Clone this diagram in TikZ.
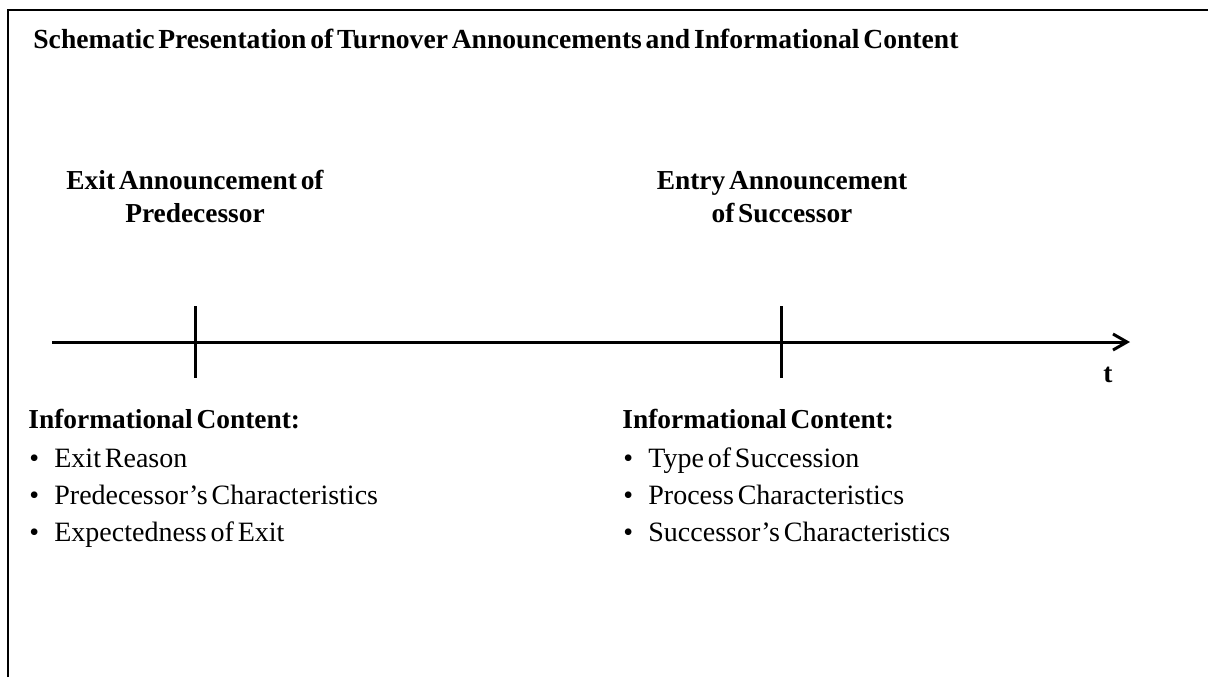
\documentclass[tikz,border=0pt]{standalone}
\usepackage{fontspec}
\setmainfont[WordSpace=0.55]{Liberation Serif}
\usetikzlibrary{positioning}
\usetikzlibrary{arrows.meta}

\tikzset{
 heading/.style={anchor=base,inner sep=0pt,font=\bfseries\fontsize{13.7}{16}\selectfont},
 listhead/.style={anchor=base west,inner sep=0pt,font=\bfseries\fontsize{13.7}{16}\selectfont},
 listitem/.style={anchor=base west,inner sep=0pt,font=\fontsize{14}{16}\selectfont},
 axisline/.style={line width=1.5pt}
}
\newcommand{\itembullet}{\makebox[13pt][l]{\hspace{0.5pt}\textbullet}}

\begin{document}
\begin{tikzpicture}[x=0.5pt,y=-0.5pt]
 \useasboundingbox (0,0) rectangle (1208,677);
 % frame
 \draw[line width=1pt](8,677)--(8,10)--(1208,10);
 \node[anchor=base west,inner sep=0pt,font=\bfseries\fontsize{13.8}{16}\selectfont] (title) at (33,48)
  {Schematic Presentation of Turnover Announcements and Informational Content};

 % time axis
 \coordinate (axstart) at (52,342);
 \coordinate (axend) at (1130,342);
 \draw[axisline,-{Straight Barb[length=7pt,width=8pt]}] (axstart)--(axend);
 \node[heading] (tlabel) at (1108,382) {t};

 \coordinate (exittop) at (195,306);
 \coordinate (exitbot) at (195,378);
 \coordinate (entrytop) at (781,306);
 \coordinate (entrybot) at (781,378);
 \draw[axisline](exittop)--(exitbot);
 \draw[axisline](entrytop)--(entrybot);

 % announcements
 \node[heading] (exitA) at (195,189) {Exit Announcement of};
 \node[heading] (exitB) at (195,222) {Predecessor};
 \node[heading] (entryA) at (782,189) {Entry Announcement};
 \node[heading] (entryB) at (782,222) {of Successor};

 % informational content
 \node[listhead] (exitinfo) at (28,428) {Informational Content:};
 \node[listitem] (exit1) at (28,467) {\itembullet Exit Reason};
 \node[listitem] (exit2) at (28,504) {\itembullet Predecessor’s Characteristics};
 \node[listitem] (exit3) at (28,541) {\itembullet Expectedness of Exit};

 \node[listhead] (entryinfo) at (622,428) {Informational Content:};
 \node[listitem] (entry1) at (622,467) {\itembullet Type of Succession};
 \node[listitem] (entry2) at (622,504) {\itembullet Process Characteristics};
 \node[listitem] (entry3) at (622,541) {\itembullet Successor’s Characteristics};
\end{tikzpicture}
\end{document}
